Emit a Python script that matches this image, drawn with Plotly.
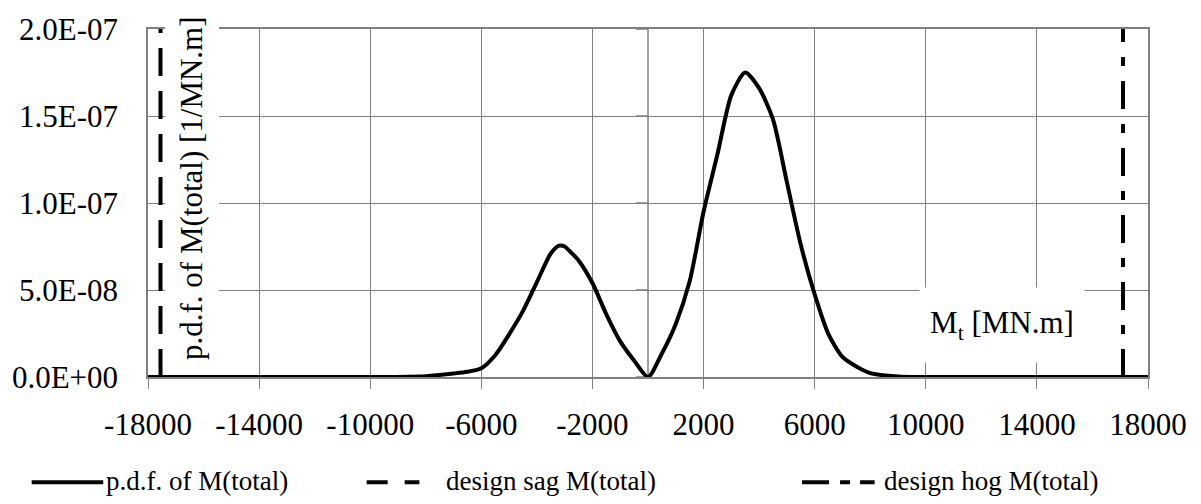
import plotly.graph_objects as go

# ---- data ----
moment = [-18000, -10000, -8000, -7000, -6500, -6000, -5500, -5000, -4500, -4000,
          -3500, -3200, -3000, -2800, -2500, -2000, -1500, -1000, -500, 0,
          500, 1000, 1500, 2000, 2500, 3000, 3500, 4000, 4500, 5000,
          5500, 6000, 6500, 7000, 7500, 8000, 9000, 10000, 18000]
pdf_e8 = [0, 0, 0.05, 0.2, 0.3, 0.5, 1.25, 2.45, 3.8, 5.45,
          7.1, 7.55, 7.5, 7.2, 6.7, 5.4, 3.6, 2.05, 0.95, 0,
          1.35, 3.05, 5.5, 9.5, 12.8, 16.2, 17.5, 16.6, 14.8, 11.2,
          7.6, 4.75, 2.45, 1.15, 0.6, 0.22, 0.03, 0, 0]
pdf = [v * 1e-8 for v in pdf_e8]

design_sag = -17550
design_hog = 17100

series_names = ["p.d.f. of M(total)", "design sag M(total)", "design hog M(total)"]
x_tick_vals = [-18000, -14000, -10000, -6000, -2000, 2000, 6000, 10000, 14000, 18000]
x_tick_text = ["-18000", "-14000", "-10000", "-6000", "-2000", "2000", "6000", "10000", "14000", "18000"]
y_tick_vals = [0, 5e-8, 1e-7, 1.5e-7, 2e-7]
y_tick_text = ["0.0E+00", "5.0E-08", "1.0E-07", "1.5E-07", "2.0E-07"]
x_range = [-18000, 18000]
y_range = [0, 2e-7]

FONT = "Liberation Serif, Times New Roman, Times, serif"
GRID = "#808080"

fig = go.Figure()
fig.add_trace(go.Scatter(x=moment, y=pdf, mode="lines", name=series_names[0],
                         line=dict(color="black", width=4, shape="spline", smoothing=0.7),
                         showlegend=False))
fig.add_trace(go.Scatter(x=[design_sag, design_sag], y=y_range, mode="lines", name=series_names[1],
                         line=dict(color="black", width=4, dash="28px,15px"), showlegend=False))
fig.add_trace(go.Scatter(x=[design_hog, design_hog], y=y_range, mode="lines", name=series_names[2],
                         line=dict(color="black", width=4, dash="28px,15px,9px,15px"), showlegend=False))

shapes = []
# y axis line at x = 0 with tick marks
shapes.append(dict(type="line", xref="x", yref="y", x0=0, x1=0, y0=y_range[0], y1=y_range[1],
                   line=dict(color=GRID, width=1.5), layer="below"))
for v in y_tick_vals:
    shapes.append(dict(type="line", xref="x", yref="y", xsizemode="pixel", xanchor=0,
                       x0=-12, x1=0, y0=v, y1=v, line=dict(color=GRID, width=1.5), layer="below"))

# manual legend (pixel -> paper conversions)
L, W, T, H = 142, 1006, 23, 354
def px(x):
    return (x - L) / W
def py(y):
    return (T + H - y) / H

leg_y = py(484)
legend_items = [
    (25, 97, "solid", 98),
    (362, 415, "21px,17px", 440),
    (800, 873, "27px,11px,10px,10px", 880),
]
annotations = []
for (x0, x1, dash, tx), name in zip(legend_items, series_names):
    shapes.append(dict(type="line", xref="paper", yref="paper", x0=px(x0), x1=px(x1),
                       y0=leg_y, y1=leg_y, line=dict(color="black", width=4, dash=dash)))
    annotations.append(dict(xref="paper", yref="paper", x=px(tx), y=py(483), text=name,
                            showarrow=False, xanchor="left", yanchor="middle",
                            font=dict(family=FONT, size=27, color="black")))

# y-axis title inside the plot
annotations.append(dict(xref="paper", yref="paper", x=px(186), y=py(185),
                        xanchor="center", yanchor="middle",
                        text="p.d.f. of M(total) [1/MN.m]", textangle=-90, showarrow=False,
                        bgcolor="white", borderpad=9,
                        font=dict(family=FONT, size=31, color="black")))
# x-axis title inside the plot
annotations.append(dict(xref="paper", yref="paper", x=px(1001), y=py(324),
                        xanchor="center", yanchor="middle",
                        text="M<sub>t</sub> [MN.m]", showarrow=False,
                        bgcolor="white", width=162, height=72,
                        font=dict(family=FONT, size=31, color="black")))

fig.update_layout(
    width=1201, height=504,
    margin=dict(l=142, r=53, t=23, b=127),
    paper_bgcolor="white", plot_bgcolor="white",
    font=dict(family=FONT, size=31, color="black"),
    shapes=shapes, annotations=annotations,
    showlegend=False,
)
fig.update_xaxes(range=x_range, tickmode="array", tickvals=x_tick_vals, ticktext=x_tick_text,
                 showgrid=True, gridcolor=GRID, gridwidth=1,
                 ticks="outside", ticklen=10, tickcolor=GRID, tickwidth=1,
                 showline=True, linecolor=GRID, linewidth=1.5, mirror=True,
                 zeroline=False, ticklabelstandoff=9,
                 tickfont=dict(family=FONT, size=31, color="black"))
fig.update_yaxes(range=y_range, tickmode="array", tickvals=y_tick_vals, ticktext=y_tick_text,
                 showgrid=True, gridcolor=GRID, gridwidth=1, ticks="",
                 showline=True, linecolor=GRID, linewidth=1.5, mirror=True,
                 zeroline=False, ticklabelstandoff=22,
                 tickfont=dict(family=FONT, size=31, color="black"))

fig.write_html("out.html")
